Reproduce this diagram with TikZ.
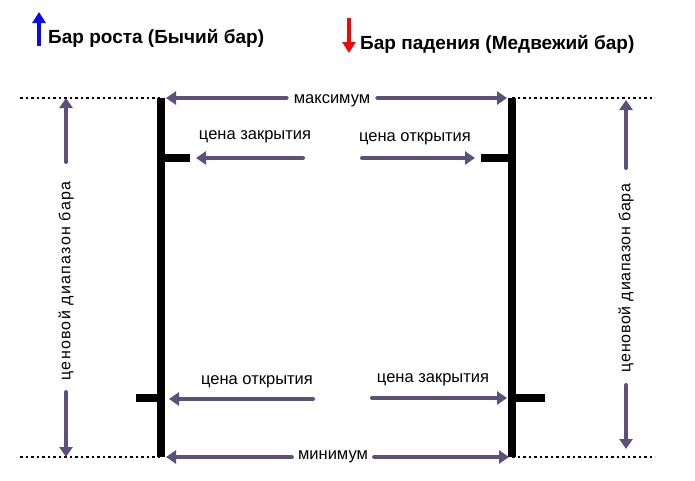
\documentclass[tikz,border=0pt]{standalone}
\usepackage{fontspec}
\setmainfont{Liberation Sans}
\usetikzlibrary{arrows.meta}
\definecolor{purplec}{RGB}{94,80,124}
\definecolor{bullc}{RGB}{10,10,235}
\definecolor{bearc}{RGB}{235,10,10}

\begin{document}
\begin{tikzpicture}[
  x=1pt, y=-1pt,
  lbl/.style={font=\fontsize{16.5}{18}\selectfont, inner sep=0pt},
  ttl/.style={font=\fontsize{19}{21}\selectfont\bfseries, anchor=west, inner sep=0pt},
  rng/.style={font=\fontsize{16}{18}\selectfont\addfontfeatures{LetterSpace=8}, rotate=90, inner sep=0pt},
  arr/.style={draw=purplec, line width=4pt, line cap=round, -{Triangle[length=10pt,width=13pt]}},
  legarr/.style={line width=4.5pt, -{Triangle[length=11pt,width=13pt]}},
  barline/.style={line width=8pt},
  lvl/.style={line width=2.5pt, dash pattern=on 2.5pt off 3pt}
]
\useasboundingbox (0,0) rectangle (695,480);

% legend
\coordinate (bull0) at (39,46);
\coordinate (bull1) at (39,12);
\draw[legarr, draw=bullc, fill=bullc] (bull0) -- (bull1);
\node[ttl] (bulltxt) at (48,38) {Бар роста (Бычий бар)};
\coordinate (bear0) at (349,18);
\coordinate (bear1) at (349,53);
\draw[legarr, draw=bearc, fill=bearc] (bear0) -- (bear1);
\node[ttl] (beartxt) at (360,44) {Бар падения (Медвежий бар)};

% bars
\coordinate (lhigh) at (161,98);
\coordinate (llow) at (161,457);
\coordinate (rhigh) at (512,98);
\coordinate (rlow) at (512,457);
\draw[barline] (lhigh) -- (llow);
\draw[barline] (rhigh) -- (rlow);
\coordinate (lcl) at (190,158);
\coordinate (lop) at (136,398);
\coordinate (rop) at (481,158);
\coordinate (rcl) at (545,398);
\draw[barline] (lhigh |- lcl) -- (lcl);
\draw[barline] (lop) -- (lop -| lhigh);
\draw[barline] (rop) -- (rop -| rhigh);
\draw[barline] (rhigh |- rcl) -- (rcl);

% high / low levels
\coordinate (hl) at (20,98);
\coordinate (hr) at (655,98);
\coordinate (ll) at (20,457);
\coordinate (lr) at (655,457);
\draw[lvl] (hl) -- (lhigh);
\draw[lvl] (rhigh) -- (hr);
\draw[lvl] (ll) -- (llow);
\draw[lvl] (rlow) -- (lr);

\node[lbl, inner sep=7pt] (maxtxt) at (332,101) {максимум};
\draw[arr, shorten >=5pt] (maxtxt.west |- lhigh) -- (lhigh);
\draw[arr, shorten >=5pt] (maxtxt.east |- rhigh) -- (rhigh);
\node[lbl, inner sep=6pt] (mintxt) at (333,457) {минимум};
\draw[arr, shorten >=5pt] (mintxt) -- (llow);
\draw[arr, shorten >=3pt] (mintxt) -- (rlow);

% open / close
\node[lbl] (lcltxt) at (255,137) {цена закрытия};
\coordinate (lcl0) at (303,158);
\draw[arr, shorten >=6pt] (lcl0) -- (lcl);
\node[lbl] (roptxt) at (415,139) {цена открытия};
\coordinate (rop0) at (362,158);
\draw[arr, shorten >=6pt] (rop0) -- (rop);
\node[lbl] (loptxt) at (257,382) {цена открытия};
\coordinate (lop0) at (313,399);
\draw[arr, shorten >=8pt] (lop0) -- (lop0 -| lhigh);
\node[lbl] (rcltxt) at (433,380) {цена закрытия};
\coordinate (rcl0) at (372,398);
\draw[arr, shorten >=5pt] (rcl0) -- (rcl0 -| rhigh);

% range
\node[rng] (lrng) at (66,281) {ценовой диапазон бара};
\coordinate (lup0) at (66,162);
\coordinate (ldn0) at (66,392);
\draw[arr] (lup0) -- (lup0 |- lhigh);
\draw[arr] (ldn0) -- (ldn0 |- llow);
\node[rng, font=\fontsize{16}{18}\selectfont\addfontfeatures{LetterSpace=4.5}] (rrng) at (626,278) {ценовой диапазон бара};
\coordinate (rup0) at (626,168);
\coordinate (rdn0) at (626,385);
\draw[arr, shorten >=2pt] (rup0) -- (rup0 |- rhigh);
\draw[arr, shorten >=8pt] (rdn0) -- (rdn0 |- rlow);
\end{tikzpicture}
\end{document}
